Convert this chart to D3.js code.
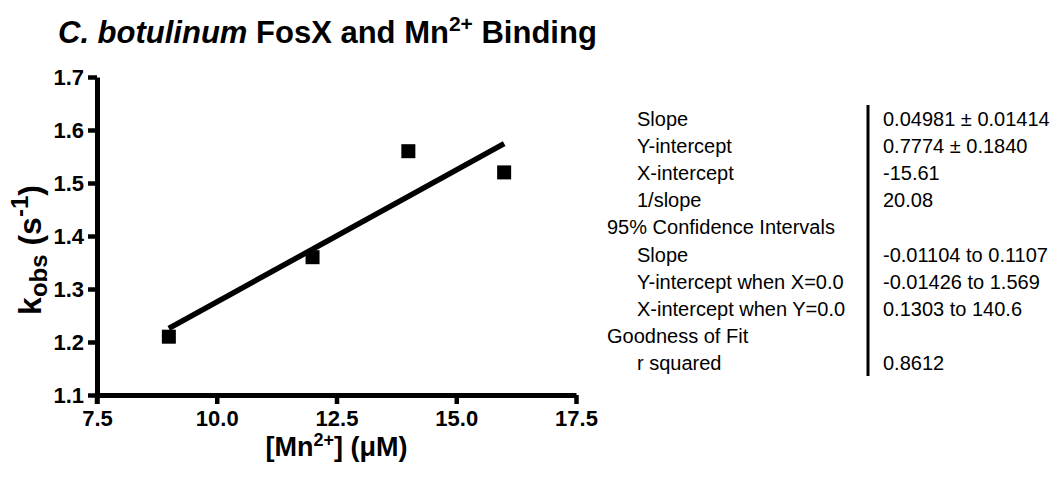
<!DOCTYPE html>
<html>
<head>
<meta charset="utf-8">
<script src="https://cdn.jsdelivr.net/npm/d3@7/dist/d3.min.js"></script>
<style>
  html, body { margin: 0; padding: 0; background: #fff; }
  svg { display: block; font-family: "Liberation Sans", Arial, Helvetica, sans-serif; }
</style>
</head>
<body>
<svg id="chart" width="1058" height="479"></svg>
<script>
// Observed rate constants at each Mn2+ concentration
const mnConc = [9, 12, 14, 16];
const kObs = [1.21, 1.36, 1.56, 1.52];

// Linear regression results
const fitSlope = 0.04981;
const fitIntercept = 0.7774;

// Axis ticks
const xTicks = [7.5, 10.0, 12.5, 15.0, 17.5];
const yTicks = [1.1, 1.2, 1.3, 1.4, 1.5, 1.6, 1.7];

// Results table rows
const tableLabels = ["Slope", "Y-intercept", "X-intercept", "1/slope",
  "95% Confidence Intervals", "Slope", "Y-intercept when X=0.0",
  "X-intercept when Y=0.0", "Goodness of Fit", "r squared"];
const tableValues = ["0.04981 ± 0.01414", "0.7774 ± 0.1840", "-15.61", "20.08",
  "", "-0.01104 to 0.1107", "-0.01426 to 1.569", "0.1303 to 140.6", "", "0.8612"];
const tableIndent = [true, true, true, true, false, true, true, true, false, true];

const svg = d3.select("#chart");

const x = d3.scaleLinear().domain([7.5, 17.5]).range([97, 576]);
const y = d3.scaleLinear().domain([1.1, 1.7]).range([395, 77]);

// Title
const title = svg.append("text")
  .attr("x", 58).attr("y", 43)
  .attr("font-size", 31).attr("font-weight", "bold").attr("fill", "#000");
title.append("tspan").attr("font-style", "italic").text("C. botulinum");
title.append("tspan").text(" FosX and Mn");
title.append("tspan").attr("font-size", 21).attr("dy", -12).text("2+");
title.append("tspan").attr("dy", 12).text(" Binding");

// Axes
const xAxis = d3.axisBottom(x).tickValues(xTicks).tickFormat(d3.format(".1f"))
  .tickSizeInner(9).tickSizeOuter(0).tickPadding(6);
const yAxis = d3.axisLeft(y).tickValues(yTicks).tickFormat(d3.format(".1f"))
  .tickSizeInner(9).tickSizeOuter(0).tickPadding(4);

function styleAxis(g) {
  g.select(".domain").attr("stroke", "#000").attr("stroke-width", 5);
  g.selectAll(".tick line").attr("stroke", "#000").attr("stroke-width", 4.5);
  g.selectAll(".tick text").attr("fill", "#000")
    .attr("font-size", 22).attr("font-weight", "bold")
    .attr("font-family", "'Liberation Sans', Arial, sans-serif");
}

svg.append("g").attr("transform", `translate(0,${y(1.1)})`).call(xAxis).call(styleAxis);
svg.append("g").attr("transform", `translate(${x(7.5)},0)`).call(yAxis).call(styleAxis);

// Extend the y-axis below the x-axis as the origin tick
svg.append("line")
  .attr("x1", x(7.5)).attr("x2", x(7.5))
  .attr("y1", y(1.1)).attr("y2", y(1.1) + 9)
  .attr("stroke", "#000").attr("stroke-width", 4.5);

// Axis titles
const xTitle = svg.append("text")
  .attr("x", (x(7.5) + x(17.5)) / 2).attr("y", 456)
  .attr("text-anchor", "middle")
  .attr("font-size", 27).attr("font-weight", "bold").attr("fill", "#000");
xTitle.append("tspan").text("[Mn");
xTitle.append("tspan").attr("font-size", 18).attr("dy", -10).text("2+");
xTitle.append("tspan").attr("dy", 10).text("] (μM)");

const yTitle = svg.append("text")
  .attr("transform", `translate(41,${(y(1.1) + y(1.7)) / 2 + 14}) rotate(-90)`)
  .attr("text-anchor", "middle")
  .attr("font-size", 32).attr("font-weight", "bold").attr("fill", "#000");
yTitle.append("tspan").text("k");
yTitle.append("tspan").attr("font-size", 24).attr("dy", 6).text("obs");
yTitle.append("tspan").attr("dy", -6).text(" (s");
yTitle.append("tspan").attr("font-size", 24).attr("dy", -13).text("-1");
yTitle.append("tspan").attr("dy", 13).text(")");

// Fitted line across the data range
const xMin = d3.min(mnConc), xMax = d3.max(mnConc);
svg.append("line")
  .attr("x1", x(xMin)).attr("y1", y(fitIntercept + fitSlope * xMin))
  .attr("x2", x(xMax)).attr("y2", y(fitIntercept + fitSlope * xMax))
  .attr("stroke", "#000").attr("stroke-width", 5.5);

// Data points
const size = 14;
svg.append("g").selectAll("rect")
  .data(mnConc.map((d, i) => [d, kObs[i]]))
  .join("rect")
  .attr("x", d => x(d[0]) - size / 2)
  .attr("y", d => y(d[1]) - size / 2)
  .attr("width", size).attr("height", size)
  .attr("fill", "#000");

// Results table
const rowTop = 126, rowStep = 27.1;
const table = svg.append("g")
  .attr("font-size", 20).attr("fill", "#000");
table.selectAll("text.label")
  .data(tableLabels)
  .join("text").attr("class", "label")
  .attr("x", (d, i) => tableIndent[i] ? 637 : 607)
  .attr("y", (d, i) => rowTop + i * rowStep)
  .text(d => d);
table.selectAll("text.value")
  .data(tableValues)
  .join("text").attr("class", "value")
  .attr("x", 883)
  .attr("y", (d, i) => rowTop + i * rowStep)
  .text(d => d);
table.append("line")
  .attr("x1", 868).attr("x2", 868)
  .attr("y1", 105).attr("y2", 376)
  .attr("stroke", "#000").attr("stroke-width", 3);
</script>
</body>
</html>
